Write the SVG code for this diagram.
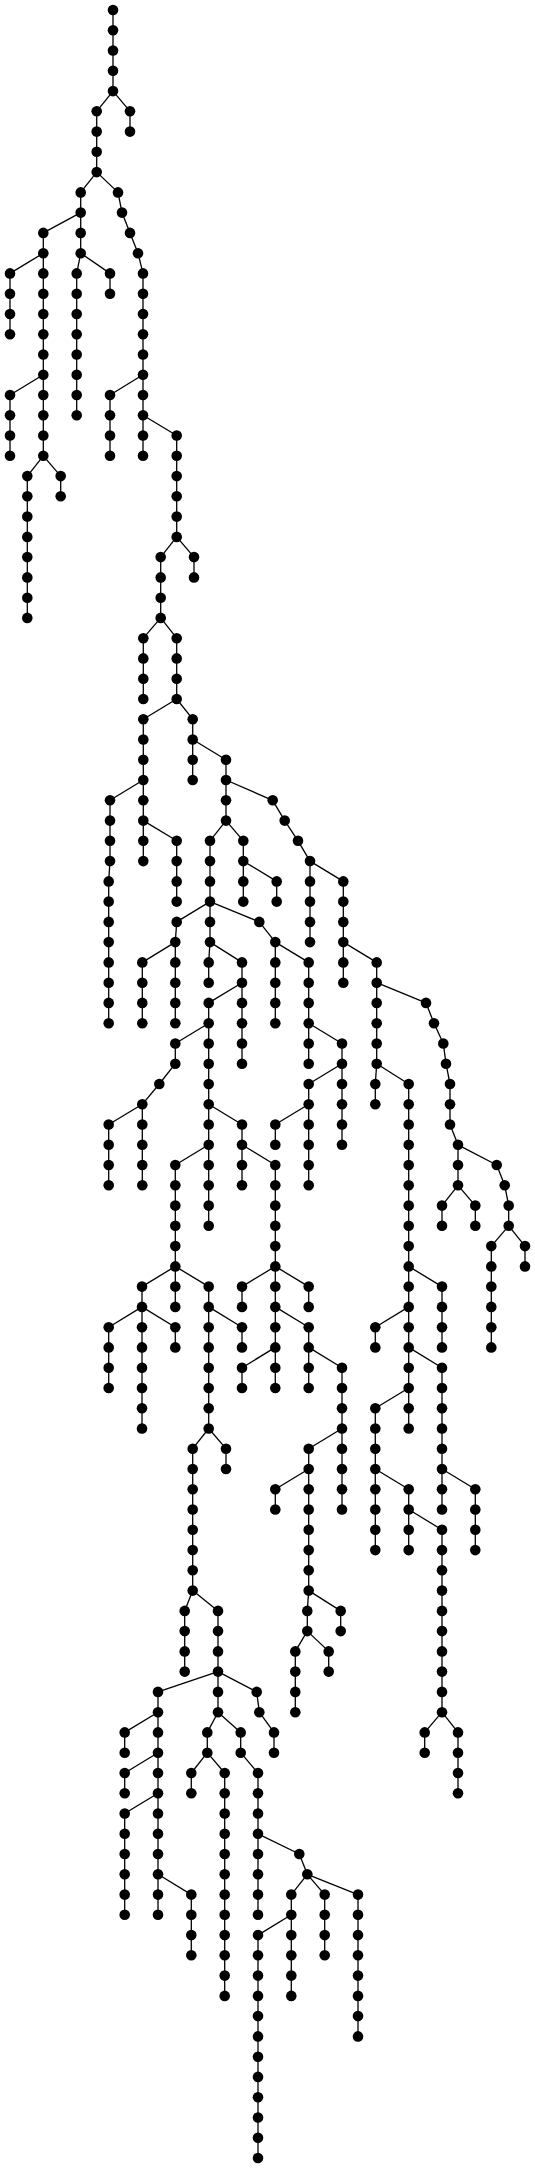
<svg xmlns="http://www.w3.org/2000/svg" width="535" height="2169" viewBox="0 0 535 2169">
<style>
#connectors path{fill:none;stroke:#000;stroke-width:1.3}
.n circle{fill:#000;stroke:none}
</style>
<rect width="535" height="2169" fill="#fff"/>
<g id="connectors">
<path d="M113 10V30.3"/><path d="M113 30.3V50.5"/><path d="M113 50.5V70.8"/><path d="M113 70.8V91.1"/>
<path d="M113 91.1L130 111.3"/><path d="M130 111.3V131.6"/>
<path d="M113 91.1L96.7 111.3"/><path d="M96.7 111.3V131.6"/><path d="M96.7 131.6V151.8"/><path d="M96.7 151.8V172.1"/>
<path d="M96.7 172.1L80.7 192.4"/><path d="M80.7 192.4V212.6"/>
<path d="M80.7 212.6L43.3 232.9"/><path d="M43.3 232.9V253.2"/>
<path d="M80.7 212.6V232.9"/><path d="M80.7 232.9V253.2"/>
<path d="M80.7 253.2L110 273.4"/><path d="M110 273.4V293.7"/>
<path d="M80.7 253.2L76.7 273.4"/><path d="M76.7 273.4V293.7"/><path d="M76.7 293.7V314"/><path d="M76.7 314V334.2"/><path d="M76.7 334.2V354.5"/><path d="M76.7 354.5V374.8"/><path d="M76.7 374.8V395"/><path d="M76.7 395V415.3"/>
<path d="M43.3 253.2L10 273.4"/><path d="M10 273.4V293.7"/><path d="M10 293.7V314"/><path d="M10 314V334.2"/>
<path d="M43.3 253.2V273.4"/><path d="M43.3 273.4V293.7"/><path d="M43.3 293.7V314"/><path d="M43.3 314V334.2"/><path d="M43.3 334.2V354.5"/><path d="M43.3 354.5V374.8"/>
<path d="M43.3 374.8L10 395"/><path d="M10 395V415.3"/><path d="M10 415.3V435.5"/><path d="M10 435.5V455.8"/>
<path d="M43.3 374.8V395"/><path d="M43.3 395V415.3"/><path d="M43.3 415.3V435.5"/><path d="M43.3 435.5V455.8"/>
<path d="M43.3 455.8L60.7 476.1"/><path d="M60.7 476.1V496.3"/>
<path d="M43.3 455.8L27.3 476.1"/><path d="M27.3 476.1V496.3"/><path d="M27.3 496.3V516.6"/><path d="M27.3 516.6V536.9"/><path d="M27.3 536.9V557.1"/><path d="M27.3 557.1V577.4"/><path d="M27.3 577.4V597.7"/><path d="M27.3 597.7V617.9"/>
<path d="M96.7 172.1L118 192.4"/><path d="M118 192.4L122 212.6"/><path d="M122 212.6L130 232.9"/><path d="M130 232.9L138 253.2"/><path d="M138 253.2L143 273.4"/><path d="M143 273.4V293.7"/><path d="M143 293.7V314"/><path d="M143 314V334.2"/><path d="M143 334.2V354.5"/><path d="M143 354.5V374.8"/>
<path d="M143 374.8L110 395"/><path d="M110 395V415.3"/><path d="M110 415.3V435.5"/><path d="M110 435.5V455.8"/>
<path d="M143 374.8V395"/><path d="M143 395V415.3"/><path d="M143 415.3V435.5"/><path d="M143 435.5V455.8"/>
<path d="M143 415.3L176.7 435.5"/><path d="M176.7 435.5V455.8"/><path d="M176.7 455.8V476.1"/><path d="M176.7 476.1V496.3"/><path d="M176.7 496.3V516.6"/><path d="M176.7 516.6V536.9"/>
<path d="M176.7 536.9L194 557.1"/><path d="M194 557.1V577.4"/>
<path d="M176.7 536.9L160.7 557.1"/><path d="M160.7 557.1V577.4"/><path d="M160.7 577.4V597.7"/><path d="M160.7 597.7V617.9"/>
<path d="M160.7 617.9L143.3 638.2"/><path d="M143.3 638.2V658.4"/><path d="M143.3 658.4V678.7"/><path d="M143.3 678.7V699"/>
<path d="M160.7 617.9L176.7 638.2"/><path d="M176.7 638.2V658.4"/><path d="M176.7 658.4V678.7"/><path d="M176.7 678.7V699"/>
<path d="M176.7 699L192.7 719.2"/><path d="M192.7 719.2V739.5"/><path d="M192.7 739.5V759.8"/><path d="M192.7 759.8V780"/>
<path d="M192.7 739.5L226 759.8"/><path d="M226 759.8V780"/>
<path d="M226 780V800.3"/><path d="M226 800.3V820.6"/>
<path d="M226 780L272.7 800.3"/><path d="M272.7 800.3L284.7 820.6"/><path d="M284.7 820.6L298 840.8"/><path d="M298 840.8L310 861.1"/>
<path d="M310 861.1V881.4"/><path d="M310 881.4V901.6"/><path d="M310 901.6V921.9"/><path d="M310 921.9V942.1"/>
<path d="M310 861.1L343.3 881.4"/><path d="M343.3 881.4V901.6"/><path d="M343.3 901.6V921.9"/><path d="M343.3 921.9V942.1"/>
<path d="M343.3 942.1V962.4"/><path d="M343.3 962.4V982.7"/>
<path d="M343.3 942.1L376.7 962.4"/><path d="M376.7 962.4V982.7"/>
<path d="M226 820.6L210 840.8"/><path d="M210 840.8V861.1"/><path d="M210 861.1V881.4"/><path d="M210 881.4V901.6"/>
<path d="M226 820.6L243.3 840.8"/><path d="M243.3 840.8V861.1"/><path d="M243.3 861.1V881.4"/><path d="M243.3 881.4V901.6"/>
<path d="M243.3 861.1L276.7 881.4"/><path d="M276.7 881.4V901.6"/>
<path d="M176.7 699L143.3 719.2"/><path d="M143.3 719.2V739.5"/><path d="M143.3 739.5V759.8"/><path d="M143.3 759.8V780"/>
<path d="M143.3 780L110 800.3"/><path d="M110 800.3V820.6"/><path d="M110 820.6V840.8"/><path d="M110 840.8V861.1"/><path d="M110 861.1L108.7 881.4"/><path d="M108.7 881.4V901.6"/><path d="M108.7 901.6V921.9"/><path d="M108.7 921.9V942.1"/><path d="M108.7 942.1V962.4"/><path d="M108.7 962.4V982.7"/><path d="M108.7 982.7V1002.9"/><path d="M108.7 1002.9V1023.2"/>
<path d="M143.3 780V800.3"/><path d="M143.3 800.3V820.6"/><path d="M143.3 820.6V840.8"/><path d="M143.3 840.8V861.1"/>
<path d="M143.3 820.6L176.7 840.8"/><path d="M176.7 840.8V861.1"/><path d="M176.7 861.1V881.4"/><path d="M176.7 881.4V901.6"/>
<path d="M210 901.6L176.7 921.9"/><path d="M176.7 921.9L175.3 942.1"/>
<path d="M175.3 942.1L142.3 962.4"/><path d="M142.3 962.4V982.7"/><path d="M142.3 982.7V1002.9"/><path d="M142.3 1002.9V1023.2"/>
<path d="M175.3 942.1V962.4"/><path d="M175.3 962.4V982.7"/><path d="M175.3 982.7V1002.9"/><path d="M175.3 1002.9V1023.2"/>
<path d="M210 901.6V921.9"/><path d="M210 921.9V942.1"/>
<path d="M210 942.1L208.7 962.4"/><path d="M208.7 962.4V982.7"/>
<path d="M210 942.1L242 962.4"/><path d="M242 962.4V982.7"/><path d="M242 982.7V1002.9"/><path d="M242 1002.9V1023.2"/><path d="M242 1023.2V1043.5"/><path d="M242 1043.5V1063.7"/>
<path d="M242 982.7L208.7 1002.9"/><path d="M208.7 1002.9V1023.2"/>
<path d="M208.7 1023.2L175.3 1043.5"/><path d="M175.3 1043.5V1063.7"/><path d="M175.3 1063.7L159.3 1084"/><path d="M159.3 1084L142.3 1104.3"/>
<path d="M142.3 1104.3L108.7 1124.5"/><path d="M108.7 1124.5V1144.8"/><path d="M108.7 1144.8V1165"/><path d="M108.7 1165V1185.3"/>
<path d="M142.3 1104.3V1124.5"/><path d="M142.3 1124.5V1144.8"/><path d="M142.3 1144.8V1165"/><path d="M142.3 1165V1185.3"/>
<path d="M208.7 1023.2V1043.5"/><path d="M208.7 1043.5V1063.7"/><path d="M208.7 1063.7V1084"/><path d="M208.7 1084V1104.3"/>
<path d="M208.7 1104.3V1124.5"/><path d="M208.7 1124.5V1144.8"/>
<path d="M208.7 1144.8V1165"/><path d="M208.7 1165V1185.3"/><path d="M208.7 1185.3V1205.6"/><path d="M208.7 1205.6V1225.8"/>
<path d="M208.7 1144.8L175.3 1165"/><path d="M175.3 1165V1185.3"/><path d="M175.3 1185.3V1205.6"/><path d="M175.3 1205.6V1225.8"/><path d="M175.3 1225.8V1246.1"/><path d="M175.3 1246.1V1266.4"/>
<path d="M175.3 1266.4L142 1286.6"/><path d="M142 1286.6V1306.9"/>
<path d="M142 1306.9L108.7 1327.2"/><path d="M108.7 1327.2V1347.4"/><path d="M108.7 1347.4V1367.7"/><path d="M108.7 1367.7V1388"/>
<path d="M142 1306.9V1327.2"/><path d="M142 1327.2V1347.4"/><path d="M142 1347.4V1367.7"/><path d="M142 1367.7V1388"/><path d="M142 1388V1408.2"/><path d="M142 1408.2V1428.5"/>
<path d="M142 1306.9L175.3 1327.2"/><path d="M175.3 1327.2V1347.4"/>
<path d="M175.3 1266.4V1286.6"/><path d="M175.3 1286.6V1306.9"/>
<path d="M175.3 1266.4L208.7 1286.6"/><path d="M208.7 1286.6V1306.9"/>
<path d="M208.7 1306.9L242 1327.2"/><path d="M242 1327.2V1347.4"/>
<path d="M208.7 1306.9V1327.2"/><path d="M208.7 1327.2V1347.4"/><path d="M208.7 1347.4V1367.7"/><path d="M208.7 1367.7V1388"/><path d="M208.7 1388V1408.2"/><path d="M208.7 1408.2V1428.5"/>
<path d="M208.7 1428.5L226 1448.7"/><path d="M226 1448.7V1469"/>
<path d="M208.7 1428.5L192.7 1448.7"/><path d="M192.7 1448.7V1469"/><path d="M192.7 1469V1489.3"/><path d="M192.7 1489.3V1509.5"/><path d="M192.7 1509.5V1529.8"/><path d="M192.7 1529.8V1550.1"/><path d="M192.7 1550.1V1570.3"/><path d="M192.7 1570.3V1590.6"/>
<path d="M192.7 1590.6L184.7 1610.9"/><path d="M184.7 1610.9V1631.1"/><path d="M184.7 1631.1V1651.4"/><path d="M184.7 1651.4V1671.6"/>
<path d="M192.7 1590.6L218 1610.9"/><path d="M218 1610.9V1631.1"/><path d="M218 1631.1V1651.4"/><path d="M218 1651.4V1671.6"/>
<path d="M218 1671.6L256.7 1691.9"/><path d="M256.7 1691.9L259.3 1712.2"/><path d="M259.3 1712.2L274 1732.4"/><path d="M274 1732.4V1752.7"/>
<path d="M218 1671.6V1691.9"/><path d="M218 1691.9V1712.2"/>
<path d="M218 1712.2L207.3 1732.4"/><path d="M207.3 1732.4V1752.7"/>
<path d="M207.3 1752.7L191.3 1773"/><path d="M191.3 1773V1793.2"/>
<path d="M207.3 1752.7L224.7 1773"/><path d="M224.7 1773V1793.2"/><path d="M224.7 1793.2V1813.5"/><path d="M224.7 1813.5V1833.8"/><path d="M224.7 1833.8V1854"/><path d="M224.7 1854V1874.3"/><path d="M224.7 1874.3V1894.6"/><path d="M224.7 1894.6V1914.8"/><path d="M224.7 1914.8V1935.1"/><path d="M224.7 1935.1V1955.3"/><path d="M224.7 1955.3V1975.6"/><path d="M224.7 1975.6V1995.9"/>
<path d="M218 1712.2L240.7 1732.4"/><path d="M240.7 1732.4V1752.7"/><path d="M240.7 1752.7L258 1773"/><path d="M258 1773V1793.2"/><path d="M258 1793.2V1813.5"/><path d="M258 1813.5V1833.8"/>
<path d="M258 1833.8V1854"/><path d="M258 1854V1874.3"/><path d="M258 1874.3V1894.6"/><path d="M258 1894.6V1914.8"/>
<path d="M258 1833.8L299.3 1854"/><path d="M299.3 1854L307.3 1874.3"/>
<path d="M307.3 1874.3L291.3 1894.6"/><path d="M291.3 1894.6V1914.8"/><path d="M291.3 1914.8V1935.1"/><path d="M291.3 1935.1V1955.3"/><path d="M291.3 1955.3V1975.6"/><path d="M291.3 1975.6V1995.9"/>
<path d="M291.3 1914.8L258 1935.1"/><path d="M258 1935.1V1955.3"/><path d="M258 1955.3V1975.6"/><path d="M258 1975.6V1995.9"/><path d="M258 1995.9V2016.1"/><path d="M258 2016.1V2036.4"/><path d="M258 2036.4V2056.7"/><path d="M258 2056.7V2076.9"/><path d="M258 2076.9V2097.2"/><path d="M258 2097.2V2117.5"/><path d="M258 2117.5V2137.7"/><path d="M258 2137.7V2158"/>
<path d="M307.3 1874.3L324.7 1894.6"/><path d="M324.7 1894.6V1914.8"/><path d="M324.7 1914.8V1935.1"/><path d="M324.7 1935.1V1955.3"/>
<path d="M307.3 1874.3L358 1894.6"/><path d="M358 1894.6V1914.8"/><path d="M358 1914.8V1935.1"/><path d="M358 1935.1V1955.3"/><path d="M358 1955.3V1975.6"/><path d="M358 1975.6V1995.9"/><path d="M358 1995.9V2016.1"/><path d="M358 2016.1V2036.4"/>
<path d="M218 1671.6L158 1691.9"/><path d="M158 1691.9V1712.2"/>
<path d="M158 1712.2L124.7 1732.4"/><path d="M124.7 1732.4V1752.7"/>
<path d="M158 1712.2V1732.4"/><path d="M158 1732.4V1752.7"/>
<path d="M158 1752.7L124.7 1773"/><path d="M124.7 1773V1793.2"/>
<path d="M158 1752.7V1773"/><path d="M158 1773V1793.2"/>
<path d="M158 1793.2L124.7 1813.5"/><path d="M124.7 1813.5V1833.8"/><path d="M124.7 1833.8V1854"/><path d="M124.7 1854V1874.3"/><path d="M124.7 1874.3V1894.6"/><path d="M124.7 1894.6V1914.8"/>
<path d="M158 1793.2V1813.5"/><path d="M158 1813.5V1833.8"/><path d="M158 1833.8V1854"/><path d="M158 1854V1874.3"/><path d="M158 1874.3V1894.6"/><path d="M158 1894.6V1914.8"/>
<path d="M158 1874.3L191.3 1894.6"/><path d="M191.3 1894.6V1914.8"/><path d="M191.3 1914.8V1935.1"/><path d="M191.3 1935.1V1955.3"/>
<path d="M208.7 1104.3L242 1124.5"/><path d="M242 1124.5V1144.8"/>
<path d="M242 1144.8V1165"/><path d="M242 1165V1185.3"/>
<path d="M242 1144.8L275.3 1165"/><path d="M275.3 1165V1185.3"/><path d="M275.3 1185.3V1205.6"/><path d="M275.3 1205.6V1225.8"/><path d="M275.3 1225.8V1246.1"/><path d="M275.3 1246.1V1266.4"/>
<path d="M275.3 1266.4L242 1286.6"/><path d="M242 1286.6V1306.9"/>
<path d="M275.3 1266.4V1286.6"/><path d="M275.3 1286.6V1306.9"/>
<path d="M275.3 1266.4L308.7 1286.6"/><path d="M308.7 1286.6V1306.9"/>
<path d="M275.3 1306.9V1327.2"/><path d="M275.3 1327.2V1347.4"/>
<path d="M275.3 1306.9L308.7 1327.2"/><path d="M308.7 1327.2V1347.4"/>
<path d="M275.3 1347.4L242 1367.7"/><path d="M242 1367.7V1388"/>
<path d="M275.3 1347.4V1367.7"/><path d="M275.3 1367.7V1388"/>
<path d="M308.7 1347.4V1367.7"/><path d="M308.7 1367.7V1388"/>
<path d="M308.7 1347.4L342 1367.7"/><path d="M342 1367.7V1388"/><path d="M342 1388V1408.2"/><path d="M342 1408.2V1428.5"/>
<path d="M342 1428.5L308.7 1448.7"/><path d="M308.7 1448.7V1469"/>
<path d="M342 1428.5V1448.7"/><path d="M342 1448.7V1469"/><path d="M342 1469V1489.3"/><path d="M342 1489.3V1509.5"/>
<path d="M308.7 1469L275.3 1489.3"/><path d="M275.3 1489.3V1509.5"/>
<path d="M308.7 1469V1489.3"/><path d="M308.7 1489.3V1509.5"/><path d="M308.7 1509.5V1529.8"/><path d="M308.7 1529.8V1550.1"/><path d="M308.7 1550.1V1570.3"/><path d="M308.7 1570.3V1590.6"/>
<path d="M308.7 1590.6L307.3 1610.9"/><path d="M307.3 1610.9V1631.1"/>
<path d="M308.7 1590.6L340.7 1610.9"/><path d="M340.7 1610.9V1631.1"/>
<path d="M307.3 1631.1L295.3 1651.4"/><path d="M295.3 1651.4V1671.6"/><path d="M295.3 1671.6V1691.9"/><path d="M295.3 1691.9V1712.2"/>
<path d="M307.3 1631.1L328.7 1651.4"/><path d="M328.7 1651.4V1671.6"/>
<path d="M210 901.6L259.3 921.9"/><path d="M259.3 921.9L275.3 942.1"/>
<path d="M275.3 942.1V962.4"/><path d="M275.3 962.4V982.7"/><path d="M275.3 982.7V1002.9"/><path d="M275.3 1002.9V1023.2"/>
<path d="M275.3 942.1L308.7 962.4"/><path d="M308.7 962.4V982.7"/><path d="M308.7 982.7V1002.9"/><path d="M308.7 1002.9V1023.2"/>
<path d="M308.7 1023.2V1043.5"/><path d="M308.7 1043.5V1063.7"/>
<path d="M308.7 1023.2L342 1043.5"/><path d="M342 1043.5V1063.7"/>
<path d="M342 1063.7V1084"/><path d="M342 1084V1104.3"/><path d="M342 1104.3V1124.5"/><path d="M342 1124.5V1144.8"/>
<path d="M342 1063.7L308.7 1084"/><path d="M308.7 1084V1104.3"/>
<path d="M308.7 1104.3L275.3 1124.5"/><path d="M275.3 1124.5V1144.8"/>
<path d="M308.7 1104.3V1124.5"/><path d="M308.7 1124.5V1144.8"/><path d="M308.7 1144.8V1165"/><path d="M308.7 1165V1185.3"/>
<path d="M376.7 982.7V1002.9"/><path d="M376.7 1002.9V1023.2"/><path d="M376.7 1023.2V1043.5"/><path d="M376.7 1043.5V1063.7"/>
<path d="M376.7 1063.7L375.3 1084"/><path d="M375.3 1084V1104.3"/>
<path d="M376.7 1063.7L408.7 1084"/><path d="M408.7 1084V1104.3"/><path d="M408.7 1104.3V1124.5"/><path d="M408.7 1124.5V1144.8"/><path d="M408.7 1144.8V1165"/><path d="M408.7 1165V1185.3"/><path d="M408.7 1185.3V1205.6"/><path d="M408.7 1205.6V1225.8"/><path d="M408.7 1225.8V1246.1"/><path d="M408.7 1246.1V1266.4"/>
<path d="M408.7 1266.4V1286.6"/><path d="M408.7 1286.6V1306.9"/>
<path d="M408.7 1266.4L442 1286.6"/><path d="M442 1286.6V1306.9"/><path d="M442 1306.9V1327.2"/><path d="M442 1327.2V1347.4"/>
<path d="M408.7 1306.9L375.3 1327.2"/><path d="M375.3 1327.2V1347.4"/>
<path d="M408.7 1306.9V1327.2"/><path d="M408.7 1327.2V1347.4"/>
<path d="M408.7 1347.4V1367.7"/><path d="M408.7 1367.7V1388"/>
<path d="M408.7 1347.4L442 1367.7"/><path d="M442 1367.7V1388"/><path d="M442 1388V1408.2"/><path d="M442 1408.2V1428.5"/><path d="M442 1428.5V1448.7"/><path d="M442 1448.7V1469"/>
<path d="M442 1469V1489.3"/><path d="M442 1489.3V1509.5"/>
<path d="M442 1469L475.3 1489.3"/><path d="M475.3 1489.3V1509.5"/><path d="M475.3 1509.5V1529.8"/><path d="M475.3 1529.8V1550.1"/>
<path d="M408.7 1388L375.3 1408.2"/><path d="M375.3 1408.2V1428.5"/><path d="M375.3 1428.5V1448.7"/><path d="M375.3 1448.7V1469"/>
<path d="M408.7 1388V1408.2"/><path d="M408.7 1408.2V1428.5"/>
<path d="M375.3 1469V1489.3"/><path d="M375.3 1489.3V1509.5"/><path d="M375.3 1509.5V1529.8"/><path d="M375.3 1529.8V1550.1"/>
<path d="M375.3 1469L408.7 1489.3"/><path d="M408.7 1489.3V1509.5"/>
<path d="M408.7 1509.5V1529.8"/><path d="M408.7 1529.8V1550.1"/>
<path d="M408.7 1509.5L442 1529.8"/><path d="M442 1529.8V1550.1"/><path d="M442 1550.1V1570.3"/><path d="M442 1570.3V1590.6"/><path d="M442 1590.6V1610.9"/><path d="M442 1610.9V1631.1"/><path d="M442 1631.1V1651.4"/><path d="M442 1651.4V1671.6"/><path d="M442 1671.6V1691.9"/><path d="M442 1691.9V1712.2"/>
<path d="M442 1712.2L424.7 1732.4"/><path d="M424.7 1732.4V1752.7"/>
<path d="M442 1712.2L458 1732.4"/><path d="M458 1732.4V1752.7"/><path d="M458 1752.7V1773"/><path d="M458 1773V1793.2"/>
<path d="M376.7 982.7L426 1002.9"/><path d="M426 1002.9L434 1023.2"/><path d="M434 1023.2L443.3 1043.5"/><path d="M443.3 1043.5L446 1063.7"/><path d="M446 1063.7L450 1084"/><path d="M450 1084V1104.3"/><path d="M450 1104.3V1124.5"/><path d="M450 1124.5L458 1144.8"/>
<path d="M458 1144.8V1165"/><path d="M458 1165V1185.3"/>
<path d="M458 1185.3L442 1205.6"/><path d="M442 1205.6V1225.8"/>
<path d="M458 1185.3L475.3 1205.6"/><path d="M475.3 1205.6V1225.8"/>
<path d="M458 1144.8L496.7 1165"/><path d="M496.7 1165L504.7 1185.3"/><path d="M504.7 1185.3L508.7 1205.6"/><path d="M508.7 1205.6V1225.8"/>
<path d="M508.7 1225.8L491.3 1246.1"/><path d="M491.3 1246.1V1266.4"/><path d="M491.3 1266.4V1286.6"/><path d="M491.3 1286.6V1306.9"/><path d="M491.3 1306.9V1327.2"/><path d="M491.3 1327.2V1347.4"/>
<path d="M508.7 1225.8L525 1246.1"/><path d="M525 1246.1V1266.4"/>
</g>
<g id="nodes" class="n">
<g id="n1"><circle cx="113" cy="10" r="5.3"/></g>
<g id="n2"><circle cx="113" cy="30.3" r="5.3"/></g>
<g id="n3"><circle cx="113" cy="50.5" r="5.3"/></g>
<g id="n4"><circle cx="113" cy="70.8" r="5.3"/></g>
<g id="n5"><circle cx="113" cy="91.1" r="5.3"/></g>
<g id="n6"><circle cx="130" cy="111.3" r="5.3"/></g>
<g id="n7"><circle cx="130" cy="131.6" r="5.3"/></g>
<g id="n8"><circle cx="96.7" cy="111.3" r="5.3"/></g>
<g id="n9"><circle cx="96.7" cy="131.6" r="5.3"/></g>
<g id="n10"><circle cx="96.7" cy="151.8" r="5.3"/></g>
<g id="n11"><circle cx="96.7" cy="172.1" r="5.3"/></g>
<g id="n12"><circle cx="80.7" cy="192.4" r="5.3"/></g>
<g id="n13"><circle cx="80.7" cy="212.6" r="5.3"/></g>
<g id="n14"><circle cx="43.3" cy="232.9" r="5.3"/></g>
<g id="n15"><circle cx="43.3" cy="253.2" r="5.3"/></g>
<g id="n16"><circle cx="80.7" cy="232.9" r="5.3"/></g>
<g id="n17"><circle cx="80.7" cy="253.2" r="5.3"/></g>
<g id="n18"><circle cx="110" cy="273.4" r="5.3"/></g>
<g id="n19"><circle cx="110" cy="293.7" r="5.3"/></g>
<g id="n20"><circle cx="76.7" cy="273.4" r="5.3"/></g>
<g id="n21"><circle cx="76.7" cy="293.7" r="5.3"/></g>
<g id="n22"><circle cx="76.7" cy="314" r="5.3"/></g>
<g id="n23"><circle cx="76.7" cy="334.2" r="5.3"/></g>
<g id="n24"><circle cx="76.7" cy="354.5" r="5.3"/></g>
<g id="n25"><circle cx="76.7" cy="374.8" r="5.3"/></g>
<g id="n26"><circle cx="76.7" cy="395" r="5.3"/></g>
<g id="n27"><circle cx="76.7" cy="415.3" r="5.3"/></g>
<g id="n28"><circle cx="10" cy="273.4" r="5.3"/></g>
<g id="n29"><circle cx="10" cy="293.7" r="5.3"/></g>
<g id="n30"><circle cx="10" cy="314" r="5.3"/></g>
<g id="n31"><circle cx="10" cy="334.2" r="5.3"/></g>
<g id="n32"><circle cx="43.3" cy="273.4" r="5.3"/></g>
<g id="n33"><circle cx="43.3" cy="293.7" r="5.3"/></g>
<g id="n34"><circle cx="43.3" cy="314" r="5.3"/></g>
<g id="n35"><circle cx="43.3" cy="334.2" r="5.3"/></g>
<g id="n36"><circle cx="43.3" cy="354.5" r="5.3"/></g>
<g id="n37"><circle cx="43.3" cy="374.8" r="5.3"/></g>
<g id="n38"><circle cx="10" cy="395" r="5.3"/></g>
<g id="n39"><circle cx="10" cy="415.3" r="5.3"/></g>
<g id="n40"><circle cx="10" cy="435.5" r="5.3"/></g>
<g id="n41"><circle cx="10" cy="455.8" r="5.3"/></g>
<g id="n42"><circle cx="43.3" cy="395" r="5.3"/></g>
<g id="n43"><circle cx="43.3" cy="415.3" r="5.3"/></g>
<g id="n44"><circle cx="43.3" cy="435.5" r="5.3"/></g>
<g id="n45"><circle cx="43.3" cy="455.8" r="5.3"/></g>
<g id="n46"><circle cx="60.7" cy="476.1" r="5.3"/></g>
<g id="n47"><circle cx="60.7" cy="496.3" r="5.3"/></g>
<g id="n48"><circle cx="27.3" cy="476.1" r="5.3"/></g>
<g id="n49"><circle cx="27.3" cy="496.3" r="5.3"/></g>
<g id="n50"><circle cx="27.3" cy="516.6" r="5.3"/></g>
<g id="n51"><circle cx="27.3" cy="536.9" r="5.3"/></g>
<g id="n52"><circle cx="27.3" cy="557.1" r="5.3"/></g>
<g id="n53"><circle cx="27.3" cy="577.4" r="5.3"/></g>
<g id="n54"><circle cx="27.3" cy="597.7" r="5.3"/></g>
<g id="n55"><circle cx="27.3" cy="617.9" r="5.3"/></g>
<g id="n56"><circle cx="118" cy="192.4" r="5.3"/></g>
<g id="n57"><circle cx="122" cy="212.6" r="5.3"/></g>
<g id="n58"><circle cx="130" cy="232.9" r="5.3"/></g>
<g id="n59"><circle cx="138" cy="253.2" r="5.3"/></g>
<g id="n60"><circle cx="143" cy="273.4" r="5.3"/></g>
<g id="n61"><circle cx="143" cy="293.7" r="5.3"/></g>
<g id="n62"><circle cx="143" cy="314" r="5.3"/></g>
<g id="n63"><circle cx="143" cy="334.2" r="5.3"/></g>
<g id="n64"><circle cx="143" cy="354.5" r="5.3"/></g>
<g id="n65"><circle cx="143" cy="374.8" r="5.3"/></g>
<g id="n66"><circle cx="110" cy="395" r="5.3"/></g>
<g id="n67"><circle cx="110" cy="415.3" r="5.3"/></g>
<g id="n68"><circle cx="110" cy="435.5" r="5.3"/></g>
<g id="n69"><circle cx="110" cy="455.8" r="5.3"/></g>
<g id="n70"><circle cx="143" cy="395" r="5.3"/></g>
<g id="n71"><circle cx="143" cy="415.3" r="5.3"/></g>
<g id="n72"><circle cx="143" cy="435.5" r="5.3"/></g>
<g id="n73"><circle cx="143" cy="455.8" r="5.3"/></g>
<g id="n74"><circle cx="176.7" cy="435.5" r="5.3"/></g>
<g id="n75"><circle cx="176.7" cy="455.8" r="5.3"/></g>
<g id="n76"><circle cx="176.7" cy="476.1" r="5.3"/></g>
<g id="n77"><circle cx="176.7" cy="496.3" r="5.3"/></g>
<g id="n78"><circle cx="176.7" cy="516.6" r="5.3"/></g>
<g id="n79"><circle cx="176.7" cy="536.9" r="5.3"/></g>
<g id="n80"><circle cx="194" cy="557.1" r="5.3"/></g>
<g id="n81"><circle cx="194" cy="577.4" r="5.3"/></g>
<g id="n82"><circle cx="160.7" cy="557.1" r="5.3"/></g>
<g id="n83"><circle cx="160.7" cy="577.4" r="5.3"/></g>
<g id="n84"><circle cx="160.7" cy="597.7" r="5.3"/></g>
<g id="n85"><circle cx="160.7" cy="617.9" r="5.3"/></g>
<g id="n86"><circle cx="143.3" cy="638.2" r="5.3"/></g>
<g id="n87"><circle cx="143.3" cy="658.4" r="5.3"/></g>
<g id="n88"><circle cx="143.3" cy="678.7" r="5.3"/></g>
<g id="n89"><circle cx="143.3" cy="699" r="5.3"/></g>
<g id="n90"><circle cx="176.7" cy="638.2" r="5.3"/></g>
<g id="n91"><circle cx="176.7" cy="658.4" r="5.3"/></g>
<g id="n92"><circle cx="176.7" cy="678.7" r="5.3"/></g>
<g id="n93"><circle cx="176.7" cy="699" r="5.3"/></g>
<g id="n94"><circle cx="192.7" cy="719.2" r="5.3"/></g>
<g id="n95"><circle cx="192.7" cy="739.5" r="5.3"/></g>
<g id="n96"><circle cx="192.7" cy="759.8" r="5.3"/></g>
<g id="n97"><circle cx="192.7" cy="780" r="5.3"/></g>
<g id="n98"><circle cx="226" cy="759.8" r="5.3"/></g>
<g id="n99"><circle cx="226" cy="780" r="5.3"/></g>
<g id="n100"><circle cx="226" cy="800.3" r="5.3"/></g>
<g id="n101"><circle cx="226" cy="820.6" r="5.3"/></g>
<g id="n102"><circle cx="272.7" cy="800.3" r="5.3"/></g>
<g id="n103"><circle cx="284.7" cy="820.6" r="5.3"/></g>
<g id="n104"><circle cx="298" cy="840.8" r="5.3"/></g>
<g id="n105"><circle cx="310" cy="861.1" r="5.3"/></g>
<g id="n106"><circle cx="310" cy="881.4" r="5.3"/></g>
<g id="n107"><circle cx="310" cy="901.6" r="5.3"/></g>
<g id="n108"><circle cx="310" cy="921.9" r="5.3"/></g>
<g id="n109"><circle cx="310" cy="942.1" r="5.3"/></g>
<g id="n110"><circle cx="343.3" cy="881.4" r="5.3"/></g>
<g id="n111"><circle cx="343.3" cy="901.6" r="5.3"/></g>
<g id="n112"><circle cx="343.3" cy="921.9" r="5.3"/></g>
<g id="n113"><circle cx="343.3" cy="942.1" r="5.3"/></g>
<g id="n114"><circle cx="343.3" cy="962.4" r="5.3"/></g>
<g id="n115"><circle cx="343.3" cy="982.7" r="5.3"/></g>
<g id="n116"><circle cx="376.7" cy="962.4" r="5.3"/></g>
<g id="n117"><circle cx="376.7" cy="982.7" r="5.3"/></g>
<g id="n118"><circle cx="210" cy="840.8" r="5.3"/></g>
<g id="n119"><circle cx="210" cy="861.1" r="5.3"/></g>
<g id="n120"><circle cx="210" cy="881.4" r="5.3"/></g>
<g id="n121"><circle cx="210" cy="901.6" r="5.3"/></g>
<g id="n122"><circle cx="243.3" cy="840.8" r="5.3"/></g>
<g id="n123"><circle cx="243.3" cy="861.1" r="5.3"/></g>
<g id="n124"><circle cx="243.3" cy="881.4" r="5.3"/></g>
<g id="n125"><circle cx="243.3" cy="901.6" r="5.3"/></g>
<g id="n126"><circle cx="276.7" cy="881.4" r="5.3"/></g>
<g id="n127"><circle cx="276.7" cy="901.6" r="5.3"/></g>
<g id="n128"><circle cx="143.3" cy="719.2" r="5.3"/></g>
<g id="n129"><circle cx="143.3" cy="739.5" r="5.3"/></g>
<g id="n130"><circle cx="143.3" cy="759.8" r="5.3"/></g>
<g id="n131"><circle cx="143.3" cy="780" r="5.3"/></g>
<g id="n132"><circle cx="110" cy="800.3" r="5.3"/></g>
<g id="n133"><circle cx="110" cy="820.6" r="5.3"/></g>
<g id="n134"><circle cx="110" cy="840.8" r="5.3"/></g>
<g id="n135"><circle cx="110" cy="861.1" r="5.3"/></g>
<g id="n136"><circle cx="108.7" cy="881.4" r="5.3"/></g>
<g id="n137"><circle cx="108.7" cy="901.6" r="5.3"/></g>
<g id="n138"><circle cx="108.7" cy="921.9" r="5.3"/></g>
<g id="n139"><circle cx="108.7" cy="942.1" r="5.3"/></g>
<g id="n140"><circle cx="108.7" cy="962.4" r="5.3"/></g>
<g id="n141"><circle cx="108.7" cy="982.7" r="5.3"/></g>
<g id="n142"><circle cx="108.7" cy="1002.9" r="5.3"/></g>
<g id="n143"><circle cx="108.7" cy="1023.2" r="5.3"/></g>
<g id="n144"><circle cx="143.3" cy="800.3" r="5.3"/></g>
<g id="n145"><circle cx="143.3" cy="820.6" r="5.3"/></g>
<g id="n146"><circle cx="143.3" cy="840.8" r="5.3"/></g>
<g id="n147"><circle cx="143.3" cy="861.1" r="5.3"/></g>
<g id="n148"><circle cx="176.7" cy="840.8" r="5.3"/></g>
<g id="n149"><circle cx="176.7" cy="861.1" r="5.3"/></g>
<g id="n150"><circle cx="176.7" cy="881.4" r="5.3"/></g>
<g id="n151"><circle cx="176.7" cy="901.6" r="5.3"/></g>
<g id="n152"><circle cx="176.7" cy="921.9" r="5.3"/></g>
<g id="n153"><circle cx="175.3" cy="942.1" r="5.3"/></g>
<g id="n154"><circle cx="142.3" cy="962.4" r="5.3"/></g>
<g id="n155"><circle cx="142.3" cy="982.7" r="5.3"/></g>
<g id="n156"><circle cx="142.3" cy="1002.9" r="5.3"/></g>
<g id="n157"><circle cx="142.3" cy="1023.2" r="5.3"/></g>
<g id="n158"><circle cx="175.3" cy="962.4" r="5.3"/></g>
<g id="n159"><circle cx="175.3" cy="982.7" r="5.3"/></g>
<g id="n160"><circle cx="175.3" cy="1002.9" r="5.3"/></g>
<g id="n161"><circle cx="175.3" cy="1023.2" r="5.3"/></g>
<g id="n162"><circle cx="210" cy="921.9" r="5.3"/></g>
<g id="n163"><circle cx="210" cy="942.1" r="5.3"/></g>
<g id="n164"><circle cx="208.7" cy="962.4" r="5.3"/></g>
<g id="n165"><circle cx="208.7" cy="982.7" r="5.3"/></g>
<g id="n166"><circle cx="242" cy="962.4" r="5.3"/></g>
<g id="n167"><circle cx="242" cy="982.7" r="5.3"/></g>
<g id="n168"><circle cx="242" cy="1002.9" r="5.3"/></g>
<g id="n169"><circle cx="242" cy="1023.2" r="5.3"/></g>
<g id="n170"><circle cx="242" cy="1043.5" r="5.3"/></g>
<g id="n171"><circle cx="242" cy="1063.7" r="5.3"/></g>
<g id="n172"><circle cx="208.7" cy="1002.9" r="5.3"/></g>
<g id="n173"><circle cx="208.7" cy="1023.2" r="5.3"/></g>
<g id="n174"><circle cx="175.3" cy="1043.5" r="5.3"/></g>
<g id="n175"><circle cx="175.3" cy="1063.7" r="5.3"/></g>
<g id="n176"><circle cx="159.3" cy="1084" r="5.3"/></g>
<g id="n177"><circle cx="142.3" cy="1104.3" r="5.3"/></g>
<g id="n178"><circle cx="108.7" cy="1124.5" r="5.3"/></g>
<g id="n179"><circle cx="108.7" cy="1144.8" r="5.3"/></g>
<g id="n180"><circle cx="108.7" cy="1165" r="5.3"/></g>
<g id="n181"><circle cx="108.7" cy="1185.3" r="5.3"/></g>
<g id="n182"><circle cx="142.3" cy="1124.5" r="5.3"/></g>
<g id="n183"><circle cx="142.3" cy="1144.8" r="5.3"/></g>
<g id="n184"><circle cx="142.3" cy="1165" r="5.3"/></g>
<g id="n185"><circle cx="142.3" cy="1185.3" r="5.3"/></g>
<g id="n186"><circle cx="208.7" cy="1043.5" r="5.3"/></g>
<g id="n187"><circle cx="208.7" cy="1063.7" r="5.3"/></g>
<g id="n188"><circle cx="208.7" cy="1084" r="5.3"/></g>
<g id="n189"><circle cx="208.7" cy="1104.3" r="5.3"/></g>
<g id="n190"><circle cx="208.7" cy="1124.5" r="5.3"/></g>
<g id="n191"><circle cx="208.7" cy="1144.8" r="5.3"/></g>
<g id="n192"><circle cx="208.7" cy="1165" r="5.3"/></g>
<g id="n193"><circle cx="208.7" cy="1185.3" r="5.3"/></g>
<g id="n194"><circle cx="208.7" cy="1205.6" r="5.3"/></g>
<g id="n195"><circle cx="208.7" cy="1225.8" r="5.3"/></g>
<g id="n196"><circle cx="175.3" cy="1165" r="5.3"/></g>
<g id="n197"><circle cx="175.3" cy="1185.3" r="5.3"/></g>
<g id="n198"><circle cx="175.3" cy="1205.6" r="5.3"/></g>
<g id="n199"><circle cx="175.3" cy="1225.8" r="5.3"/></g>
<g id="n200"><circle cx="175.3" cy="1246.1" r="5.3"/></g>
<g id="n201"><circle cx="175.3" cy="1266.4" r="5.3"/></g>
<g id="n202"><circle cx="142" cy="1286.6" r="5.3"/></g>
<g id="n203"><circle cx="142" cy="1306.9" r="5.3"/></g>
<g id="n204"><circle cx="108.7" cy="1327.2" r="5.3"/></g>
<g id="n205"><circle cx="108.7" cy="1347.4" r="5.3"/></g>
<g id="n206"><circle cx="108.7" cy="1367.7" r="5.3"/></g>
<g id="n207"><circle cx="108.7" cy="1388" r="5.3"/></g>
<g id="n208"><circle cx="142" cy="1327.2" r="5.3"/></g>
<g id="n209"><circle cx="142" cy="1347.4" r="5.3"/></g>
<g id="n210"><circle cx="142" cy="1367.7" r="5.3"/></g>
<g id="n211"><circle cx="142" cy="1388" r="5.3"/></g>
<g id="n212"><circle cx="142" cy="1408.2" r="5.3"/></g>
<g id="n213"><circle cx="142" cy="1428.5" r="5.3"/></g>
<g id="n214"><circle cx="175.3" cy="1327.2" r="5.3"/></g>
<g id="n215"><circle cx="175.3" cy="1347.4" r="5.3"/></g>
<g id="n216"><circle cx="175.3" cy="1286.6" r="5.3"/></g>
<g id="n217"><circle cx="175.3" cy="1306.9" r="5.3"/></g>
<g id="n218"><circle cx="208.7" cy="1286.6" r="5.3"/></g>
<g id="n219"><circle cx="208.7" cy="1306.9" r="5.3"/></g>
<g id="n220"><circle cx="242" cy="1327.2" r="5.3"/></g>
<g id="n221"><circle cx="242" cy="1347.4" r="5.3"/></g>
<g id="n222"><circle cx="208.7" cy="1327.2" r="5.3"/></g>
<g id="n223"><circle cx="208.7" cy="1347.4" r="5.3"/></g>
<g id="n224"><circle cx="208.7" cy="1367.7" r="5.3"/></g>
<g id="n225"><circle cx="208.7" cy="1388" r="5.3"/></g>
<g id="n226"><circle cx="208.7" cy="1408.2" r="5.3"/></g>
<g id="n227"><circle cx="208.7" cy="1428.5" r="5.3"/></g>
<g id="n228"><circle cx="226" cy="1448.7" r="5.3"/></g>
<g id="n229"><circle cx="226" cy="1469" r="5.3"/></g>
<g id="n230"><circle cx="192.7" cy="1448.7" r="5.3"/></g>
<g id="n231"><circle cx="192.7" cy="1469" r="5.3"/></g>
<g id="n232"><circle cx="192.7" cy="1489.3" r="5.3"/></g>
<g id="n233"><circle cx="192.7" cy="1509.5" r="5.3"/></g>
<g id="n234"><circle cx="192.7" cy="1529.8" r="5.3"/></g>
<g id="n235"><circle cx="192.7" cy="1550.1" r="5.3"/></g>
<g id="n236"><circle cx="192.7" cy="1570.3" r="5.3"/></g>
<g id="n237"><circle cx="192.7" cy="1590.6" r="5.3"/></g>
<g id="n238"><circle cx="184.7" cy="1610.9" r="5.3"/></g>
<g id="n239"><circle cx="184.7" cy="1631.1" r="5.3"/></g>
<g id="n240"><circle cx="184.7" cy="1651.4" r="5.3"/></g>
<g id="n241"><circle cx="184.7" cy="1671.6" r="5.3"/></g>
<g id="n242"><circle cx="218" cy="1610.9" r="5.3"/></g>
<g id="n243"><circle cx="218" cy="1631.1" r="5.3"/></g>
<g id="n244"><circle cx="218" cy="1651.4" r="5.3"/></g>
<g id="n245"><circle cx="218" cy="1671.6" r="5.3"/></g>
<g id="n246"><circle cx="256.7" cy="1691.9" r="5.3"/></g>
<g id="n247"><circle cx="259.3" cy="1712.2" r="5.3"/></g>
<g id="n248"><circle cx="274" cy="1732.4" r="5.3"/></g>
<g id="n249"><circle cx="274" cy="1752.7" r="5.3"/></g>
<g id="n250"><circle cx="218" cy="1691.9" r="5.3"/></g>
<g id="n251"><circle cx="218" cy="1712.2" r="5.3"/></g>
<g id="n252"><circle cx="207.3" cy="1732.4" r="5.3"/></g>
<g id="n253"><circle cx="207.3" cy="1752.7" r="5.3"/></g>
<g id="n254"><circle cx="191.3" cy="1773" r="5.3"/></g>
<g id="n255"><circle cx="191.3" cy="1793.2" r="5.3"/></g>
<g id="n256"><circle cx="224.7" cy="1773" r="5.3"/></g>
<g id="n257"><circle cx="224.7" cy="1793.2" r="5.3"/></g>
<g id="n258"><circle cx="224.7" cy="1813.5" r="5.3"/></g>
<g id="n259"><circle cx="224.7" cy="1833.8" r="5.3"/></g>
<g id="n260"><circle cx="224.7" cy="1854" r="5.3"/></g>
<g id="n261"><circle cx="224.7" cy="1874.3" r="5.3"/></g>
<g id="n262"><circle cx="224.7" cy="1894.6" r="5.3"/></g>
<g id="n263"><circle cx="224.7" cy="1914.8" r="5.3"/></g>
<g id="n264"><circle cx="224.7" cy="1935.1" r="5.3"/></g>
<g id="n265"><circle cx="224.7" cy="1955.3" r="5.3"/></g>
<g id="n266"><circle cx="224.7" cy="1975.6" r="5.3"/></g>
<g id="n267"><circle cx="224.7" cy="1995.9" r="5.3"/></g>
<g id="n268"><circle cx="240.7" cy="1732.4" r="5.3"/></g>
<g id="n269"><circle cx="240.7" cy="1752.7" r="5.3"/></g>
<g id="n270"><circle cx="258" cy="1773" r="5.3"/></g>
<g id="n271"><circle cx="258" cy="1793.2" r="5.3"/></g>
<g id="n272"><circle cx="258" cy="1813.5" r="5.3"/></g>
<g id="n273"><circle cx="258" cy="1833.8" r="5.3"/></g>
<g id="n274"><circle cx="258" cy="1854" r="5.3"/></g>
<g id="n275"><circle cx="258" cy="1874.3" r="5.3"/></g>
<g id="n276"><circle cx="258" cy="1894.6" r="5.3"/></g>
<g id="n277"><circle cx="258" cy="1914.8" r="5.3"/></g>
<g id="n278"><circle cx="299.3" cy="1854" r="5.3"/></g>
<g id="n279"><circle cx="307.3" cy="1874.3" r="5.3"/></g>
<g id="n280"><circle cx="291.3" cy="1894.6" r="5.3"/></g>
<g id="n281"><circle cx="291.3" cy="1914.8" r="5.3"/></g>
<g id="n282"><circle cx="291.3" cy="1935.1" r="5.3"/></g>
<g id="n283"><circle cx="291.3" cy="1955.3" r="5.3"/></g>
<g id="n284"><circle cx="291.3" cy="1975.6" r="5.3"/></g>
<g id="n285"><circle cx="291.3" cy="1995.9" r="5.3"/></g>
<g id="n286"><circle cx="258" cy="1935.1" r="5.3"/></g>
<g id="n287"><circle cx="258" cy="1955.3" r="5.3"/></g>
<g id="n288"><circle cx="258" cy="1975.6" r="5.3"/></g>
<g id="n289"><circle cx="258" cy="1995.9" r="5.3"/></g>
<g id="n290"><circle cx="258" cy="2016.1" r="5.3"/></g>
<g id="n291"><circle cx="258" cy="2036.4" r="5.3"/></g>
<g id="n292"><circle cx="258" cy="2056.7" r="5.3"/></g>
<g id="n293"><circle cx="258" cy="2076.9" r="5.3"/></g>
<g id="n294"><circle cx="258" cy="2097.2" r="5.3"/></g>
<g id="n295"><circle cx="258" cy="2117.5" r="5.3"/></g>
<g id="n296"><circle cx="258" cy="2137.7" r="5.3"/></g>
<g id="n297"><circle cx="258" cy="2158" r="5.3"/></g>
<g id="n298"><circle cx="324.7" cy="1894.6" r="5.3"/></g>
<g id="n299"><circle cx="324.7" cy="1914.8" r="5.3"/></g>
<g id="n300"><circle cx="324.7" cy="1935.1" r="5.3"/></g>
<g id="n301"><circle cx="324.7" cy="1955.3" r="5.3"/></g>
<g id="n302"><circle cx="358" cy="1894.6" r="5.3"/></g>
<g id="n303"><circle cx="358" cy="1914.8" r="5.3"/></g>
<g id="n304"><circle cx="358" cy="1935.1" r="5.3"/></g>
<g id="n305"><circle cx="358" cy="1955.3" r="5.3"/></g>
<g id="n306"><circle cx="358" cy="1975.6" r="5.3"/></g>
<g id="n307"><circle cx="358" cy="1995.9" r="5.3"/></g>
<g id="n308"><circle cx="358" cy="2016.1" r="5.3"/></g>
<g id="n309"><circle cx="358" cy="2036.4" r="5.3"/></g>
<g id="n310"><circle cx="158" cy="1691.9" r="5.3"/></g>
<g id="n311"><circle cx="158" cy="1712.2" r="5.3"/></g>
<g id="n312"><circle cx="124.7" cy="1732.4" r="5.3"/></g>
<g id="n313"><circle cx="124.7" cy="1752.7" r="5.3"/></g>
<g id="n314"><circle cx="158" cy="1732.4" r="5.3"/></g>
<g id="n315"><circle cx="158" cy="1752.7" r="5.3"/></g>
<g id="n316"><circle cx="124.7" cy="1773" r="5.3"/></g>
<g id="n317"><circle cx="124.7" cy="1793.2" r="5.3"/></g>
<g id="n318"><circle cx="158" cy="1773" r="5.3"/></g>
<g id="n319"><circle cx="158" cy="1793.2" r="5.3"/></g>
<g id="n320"><circle cx="124.7" cy="1813.5" r="5.3"/></g>
<g id="n321"><circle cx="124.7" cy="1833.8" r="5.3"/></g>
<g id="n322"><circle cx="124.7" cy="1854" r="5.3"/></g>
<g id="n323"><circle cx="124.7" cy="1874.3" r="5.3"/></g>
<g id="n324"><circle cx="124.7" cy="1894.6" r="5.3"/></g>
<g id="n325"><circle cx="124.7" cy="1914.8" r="5.3"/></g>
<g id="n326"><circle cx="158" cy="1813.5" r="5.3"/></g>
<g id="n327"><circle cx="158" cy="1833.8" r="5.3"/></g>
<g id="n328"><circle cx="158" cy="1854" r="5.3"/></g>
<g id="n329"><circle cx="158" cy="1874.3" r="5.3"/></g>
<g id="n330"><circle cx="158" cy="1894.6" r="5.3"/></g>
<g id="n331"><circle cx="158" cy="1914.8" r="5.3"/></g>
<g id="n332"><circle cx="191.3" cy="1894.6" r="5.3"/></g>
<g id="n333"><circle cx="191.3" cy="1914.8" r="5.3"/></g>
<g id="n334"><circle cx="191.3" cy="1935.1" r="5.3"/></g>
<g id="n335"><circle cx="191.3" cy="1955.3" r="5.3"/></g>
<g id="n336"><circle cx="242" cy="1124.5" r="5.3"/></g>
<g id="n337"><circle cx="242" cy="1144.8" r="5.3"/></g>
<g id="n338"><circle cx="242" cy="1165" r="5.3"/></g>
<g id="n339"><circle cx="242" cy="1185.3" r="5.3"/></g>
<g id="n340"><circle cx="275.3" cy="1165" r="5.3"/></g>
<g id="n341"><circle cx="275.3" cy="1185.3" r="5.3"/></g>
<g id="n342"><circle cx="275.3" cy="1205.6" r="5.3"/></g>
<g id="n343"><circle cx="275.3" cy="1225.8" r="5.3"/></g>
<g id="n344"><circle cx="275.3" cy="1246.1" r="5.3"/></g>
<g id="n345"><circle cx="275.3" cy="1266.4" r="5.3"/></g>
<g id="n346"><circle cx="242" cy="1286.6" r="5.3"/></g>
<g id="n347"><circle cx="242" cy="1306.9" r="5.3"/></g>
<g id="n348"><circle cx="275.3" cy="1286.6" r="5.3"/></g>
<g id="n349"><circle cx="275.3" cy="1306.9" r="5.3"/></g>
<g id="n350"><circle cx="308.7" cy="1286.6" r="5.3"/></g>
<g id="n351"><circle cx="308.7" cy="1306.9" r="5.3"/></g>
<g id="n352"><circle cx="275.3" cy="1327.2" r="5.3"/></g>
<g id="n353"><circle cx="275.3" cy="1347.4" r="5.3"/></g>
<g id="n354"><circle cx="308.7" cy="1327.2" r="5.3"/></g>
<g id="n355"><circle cx="308.7" cy="1347.4" r="5.3"/></g>
<g id="n356"><circle cx="242" cy="1367.7" r="5.3"/></g>
<g id="n357"><circle cx="242" cy="1388" r="5.3"/></g>
<g id="n358"><circle cx="275.3" cy="1367.7" r="5.3"/></g>
<g id="n359"><circle cx="275.3" cy="1388" r="5.3"/></g>
<g id="n360"><circle cx="308.7" cy="1367.7" r="5.3"/></g>
<g id="n361"><circle cx="308.7" cy="1388" r="5.3"/></g>
<g id="n362"><circle cx="342" cy="1367.7" r="5.3"/></g>
<g id="n363"><circle cx="342" cy="1388" r="5.3"/></g>
<g id="n364"><circle cx="342" cy="1408.2" r="5.3"/></g>
<g id="n365"><circle cx="342" cy="1428.5" r="5.3"/></g>
<g id="n366"><circle cx="308.7" cy="1448.7" r="5.3"/></g>
<g id="n367"><circle cx="308.7" cy="1469" r="5.3"/></g>
<g id="n368"><circle cx="342" cy="1448.7" r="5.3"/></g>
<g id="n369"><circle cx="342" cy="1469" r="5.3"/></g>
<g id="n370"><circle cx="342" cy="1489.3" r="5.3"/></g>
<g id="n371"><circle cx="342" cy="1509.5" r="5.3"/></g>
<g id="n372"><circle cx="275.3" cy="1489.3" r="5.3"/></g>
<g id="n373"><circle cx="275.3" cy="1509.5" r="5.3"/></g>
<g id="n374"><circle cx="308.7" cy="1489.3" r="5.3"/></g>
<g id="n375"><circle cx="308.7" cy="1509.5" r="5.3"/></g>
<g id="n376"><circle cx="308.7" cy="1529.8" r="5.3"/></g>
<g id="n377"><circle cx="308.7" cy="1550.1" r="5.3"/></g>
<g id="n378"><circle cx="308.7" cy="1570.3" r="5.3"/></g>
<g id="n379"><circle cx="308.7" cy="1590.6" r="5.3"/></g>
<g id="n380"><circle cx="307.3" cy="1610.9" r="5.3"/></g>
<g id="n381"><circle cx="307.3" cy="1631.1" r="5.3"/></g>
<g id="n382"><circle cx="340.7" cy="1610.9" r="5.3"/></g>
<g id="n383"><circle cx="340.7" cy="1631.1" r="5.3"/></g>
<g id="n384"><circle cx="295.3" cy="1651.4" r="5.3"/></g>
<g id="n385"><circle cx="295.3" cy="1671.6" r="5.3"/></g>
<g id="n386"><circle cx="295.3" cy="1691.9" r="5.3"/></g>
<g id="n387"><circle cx="295.3" cy="1712.2" r="5.3"/></g>
<g id="n388"><circle cx="328.7" cy="1651.4" r="5.3"/></g>
<g id="n389"><circle cx="328.7" cy="1671.6" r="5.3"/></g>
<g id="n390"><circle cx="376.7" cy="1002.9" r="5.3"/></g>
<g id="n391"><circle cx="376.7" cy="1023.2" r="5.3"/></g>
<g id="n392"><circle cx="376.7" cy="1043.5" r="5.3"/></g>
<g id="n393"><circle cx="376.7" cy="1063.7" r="5.3"/></g>
<g id="n394"><circle cx="375.3" cy="1084" r="5.3"/></g>
<g id="n395"><circle cx="375.3" cy="1104.3" r="5.3"/></g>
<g id="n396"><circle cx="408.7" cy="1084" r="5.3"/></g>
<g id="n397"><circle cx="408.7" cy="1104.3" r="5.3"/></g>
<g id="n398"><circle cx="408.7" cy="1124.5" r="5.3"/></g>
<g id="n399"><circle cx="408.7" cy="1144.8" r="5.3"/></g>
<g id="n400"><circle cx="408.7" cy="1165" r="5.3"/></g>
<g id="n401"><circle cx="408.7" cy="1185.3" r="5.3"/></g>
<g id="n402"><circle cx="408.7" cy="1205.6" r="5.3"/></g>
<g id="n403"><circle cx="408.7" cy="1225.8" r="5.3"/></g>
<g id="n404"><circle cx="408.7" cy="1246.1" r="5.3"/></g>
<g id="n405"><circle cx="408.7" cy="1266.4" r="5.3"/></g>
<g id="n406"><circle cx="408.7" cy="1286.6" r="5.3"/></g>
<g id="n407"><circle cx="408.7" cy="1306.9" r="5.3"/></g>
<g id="n408"><circle cx="442" cy="1286.6" r="5.3"/></g>
<g id="n409"><circle cx="442" cy="1306.9" r="5.3"/></g>
<g id="n410"><circle cx="442" cy="1327.2" r="5.3"/></g>
<g id="n411"><circle cx="442" cy="1347.4" r="5.3"/></g>
<g id="n412"><circle cx="375.3" cy="1327.2" r="5.3"/></g>
<g id="n413"><circle cx="375.3" cy="1347.4" r="5.3"/></g>
<g id="n414"><circle cx="408.7" cy="1327.2" r="5.3"/></g>
<g id="n415"><circle cx="408.7" cy="1347.4" r="5.3"/></g>
<g id="n416"><circle cx="408.7" cy="1367.7" r="5.3"/></g>
<g id="n417"><circle cx="408.7" cy="1388" r="5.3"/></g>
<g id="n418"><circle cx="442" cy="1367.7" r="5.3"/></g>
<g id="n419"><circle cx="442" cy="1388" r="5.3"/></g>
<g id="n420"><circle cx="442" cy="1408.2" r="5.3"/></g>
<g id="n421"><circle cx="442" cy="1428.5" r="5.3"/></g>
<g id="n422"><circle cx="442" cy="1448.7" r="5.3"/></g>
<g id="n423"><circle cx="442" cy="1469" r="5.3"/></g>
<g id="n424"><circle cx="442" cy="1489.3" r="5.3"/></g>
<g id="n425"><circle cx="442" cy="1509.5" r="5.3"/></g>
<g id="n426"><circle cx="475.3" cy="1489.3" r="5.3"/></g>
<g id="n427"><circle cx="475.3" cy="1509.5" r="5.3"/></g>
<g id="n428"><circle cx="475.3" cy="1529.8" r="5.3"/></g>
<g id="n429"><circle cx="475.3" cy="1550.1" r="5.3"/></g>
<g id="n430"><circle cx="375.3" cy="1408.2" r="5.3"/></g>
<g id="n431"><circle cx="375.3" cy="1428.5" r="5.3"/></g>
<g id="n432"><circle cx="375.3" cy="1448.7" r="5.3"/></g>
<g id="n433"><circle cx="375.3" cy="1469" r="5.3"/></g>
<g id="n434"><circle cx="408.7" cy="1408.2" r="5.3"/></g>
<g id="n435"><circle cx="408.7" cy="1428.5" r="5.3"/></g>
<g id="n436"><circle cx="375.3" cy="1489.3" r="5.3"/></g>
<g id="n437"><circle cx="375.3" cy="1509.5" r="5.3"/></g>
<g id="n438"><circle cx="375.3" cy="1529.8" r="5.3"/></g>
<g id="n439"><circle cx="375.3" cy="1550.1" r="5.3"/></g>
<g id="n440"><circle cx="408.7" cy="1489.3" r="5.3"/></g>
<g id="n441"><circle cx="408.7" cy="1509.5" r="5.3"/></g>
<g id="n442"><circle cx="408.7" cy="1529.8" r="5.3"/></g>
<g id="n443"><circle cx="408.7" cy="1550.1" r="5.3"/></g>
<g id="n444"><circle cx="442" cy="1529.8" r="5.3"/></g>
<g id="n445"><circle cx="442" cy="1550.1" r="5.3"/></g>
<g id="n446"><circle cx="442" cy="1570.3" r="5.3"/></g>
<g id="n447"><circle cx="442" cy="1590.6" r="5.3"/></g>
<g id="n448"><circle cx="442" cy="1610.9" r="5.3"/></g>
<g id="n449"><circle cx="442" cy="1631.1" r="5.3"/></g>
<g id="n450"><circle cx="442" cy="1651.4" r="5.3"/></g>
<g id="n451"><circle cx="442" cy="1671.6" r="5.3"/></g>
<g id="n452"><circle cx="442" cy="1691.9" r="5.3"/></g>
<g id="n453"><circle cx="442" cy="1712.2" r="5.3"/></g>
<g id="n454"><circle cx="424.7" cy="1732.4" r="5.3"/></g>
<g id="n455"><circle cx="424.7" cy="1752.7" r="5.3"/></g>
<g id="n456"><circle cx="458" cy="1732.4" r="5.3"/></g>
<g id="n457"><circle cx="458" cy="1752.7" r="5.3"/></g>
<g id="n458"><circle cx="458" cy="1773" r="5.3"/></g>
<g id="n459"><circle cx="458" cy="1793.2" r="5.3"/></g>
<g id="n460"><circle cx="426" cy="1002.9" r="5.3"/></g>
<g id="n461"><circle cx="434" cy="1023.2" r="5.3"/></g>
<g id="n462"><circle cx="443.3" cy="1043.5" r="5.3"/></g>
<g id="n463"><circle cx="446" cy="1063.7" r="5.3"/></g>
<g id="n464"><circle cx="450" cy="1084" r="5.3"/></g>
<g id="n465"><circle cx="450" cy="1104.3" r="5.3"/></g>
<g id="n466"><circle cx="450" cy="1124.5" r="5.3"/></g>
<g id="n467"><circle cx="458" cy="1144.8" r="5.3"/></g>
<g id="n468"><circle cx="458" cy="1165" r="5.3"/></g>
<g id="n469"><circle cx="458" cy="1185.3" r="5.3"/></g>
<g id="n470"><circle cx="442" cy="1205.6" r="5.3"/></g>
<g id="n471"><circle cx="442" cy="1225.8" r="5.3"/></g>
<g id="n472"><circle cx="475.3" cy="1205.6" r="5.3"/></g>
<g id="n473"><circle cx="475.3" cy="1225.8" r="5.3"/></g>
<g id="n474"><circle cx="496.7" cy="1165" r="5.3"/></g>
<g id="n475"><circle cx="504.7" cy="1185.3" r="5.3"/></g>
<g id="n476"><circle cx="508.7" cy="1205.6" r="5.3"/></g>
<g id="n477"><circle cx="508.7" cy="1225.8" r="5.3"/></g>
<g id="n478"><circle cx="491.3" cy="1246.1" r="5.3"/></g>
<g id="n479"><circle cx="491.3" cy="1266.4" r="5.3"/></g>
<g id="n480"><circle cx="491.3" cy="1286.6" r="5.3"/></g>
<g id="n481"><circle cx="491.3" cy="1306.9" r="5.3"/></g>
<g id="n482"><circle cx="491.3" cy="1327.2" r="5.3"/></g>
<g id="n483"><circle cx="491.3" cy="1347.4" r="5.3"/></g>
<g id="n484"><circle cx="525" cy="1246.1" r="5.3"/></g>
<g id="n485"><circle cx="525" cy="1266.4" r="5.3"/></g>
<g id="n486"><circle cx="259.3" cy="921.9" r="5.3"/></g>
<g id="n487"><circle cx="275.3" cy="942.1" r="5.3"/></g>
<g id="n488"><circle cx="275.3" cy="962.4" r="5.3"/></g>
<g id="n489"><circle cx="275.3" cy="982.7" r="5.3"/></g>
<g id="n490"><circle cx="275.3" cy="1002.9" r="5.3"/></g>
<g id="n491"><circle cx="275.3" cy="1023.2" r="5.3"/></g>
<g id="n492"><circle cx="308.7" cy="962.4" r="5.3"/></g>
<g id="n493"><circle cx="308.7" cy="982.7" r="5.3"/></g>
<g id="n494"><circle cx="308.7" cy="1002.9" r="5.3"/></g>
<g id="n495"><circle cx="308.7" cy="1023.2" r="5.3"/></g>
<g id="n496"><circle cx="308.7" cy="1043.5" r="5.3"/></g>
<g id="n497"><circle cx="308.7" cy="1063.7" r="5.3"/></g>
<g id="n498"><circle cx="342" cy="1043.5" r="5.3"/></g>
<g id="n499"><circle cx="342" cy="1063.7" r="5.3"/></g>
<g id="n500"><circle cx="342" cy="1084" r="5.3"/></g>
<g id="n501"><circle cx="342" cy="1104.3" r="5.3"/></g>
<g id="n502"><circle cx="342" cy="1124.5" r="5.3"/></g>
<g id="n503"><circle cx="342" cy="1144.8" r="5.3"/></g>
<g id="n504"><circle cx="308.7" cy="1084" r="5.3"/></g>
<g id="n505"><circle cx="308.7" cy="1104.3" r="5.3"/></g>
<g id="n506"><circle cx="275.3" cy="1124.5" r="5.3"/></g>
<g id="n507"><circle cx="275.3" cy="1144.8" r="5.3"/></g>
<g id="n508"><circle cx="308.7" cy="1124.5" r="5.3"/></g>
<g id="n509"><circle cx="308.7" cy="1144.8" r="5.3"/></g>
<g id="n510"><circle cx="308.7" cy="1165" r="5.3"/></g>
<g id="n511"><circle cx="308.7" cy="1185.3" r="5.3"/></g>
</g>
</svg>
